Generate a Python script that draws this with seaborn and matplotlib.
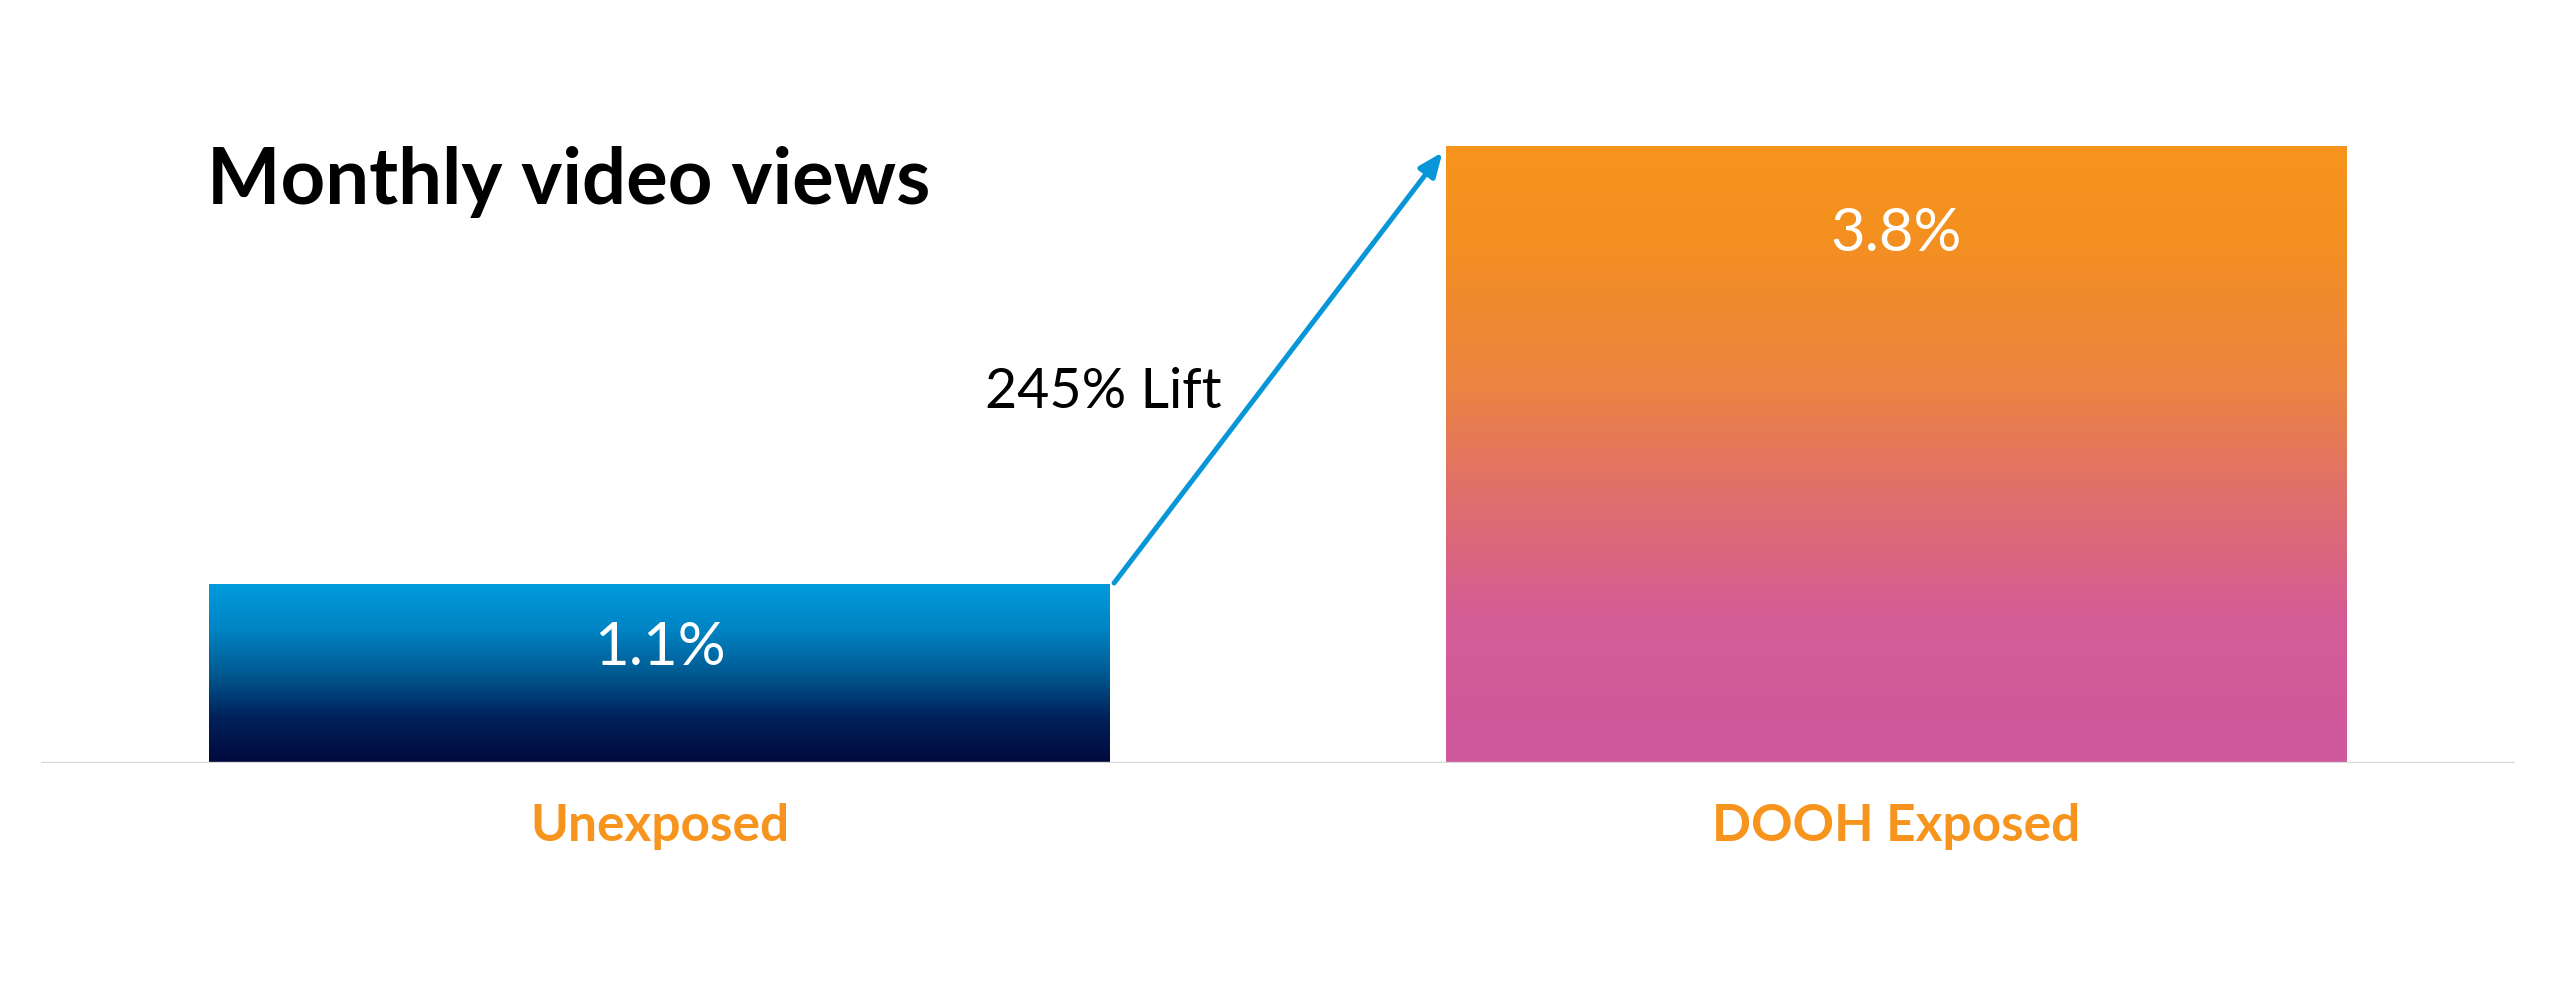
import numpy as np
import pandas as pd
import matplotlib
matplotlib.use('Agg')
import matplotlib.pyplot as plt
from matplotlib.colors import LinearSegmentedColormap
import seaborn as sns

# chart data
categories = ['Unexposed', 'DOOH Exposed']
values = [1.1, 3.8]
value_labels = ['1.1%', '3.8%']
lift_label = '245% Lift'
title = 'Monthly video views'

# gradient stops (position, colour), from bottom (0) to top (1) of each bar
blue_stops = [(0, '#000a3c'), (0.25, '#00205a'), (0.5, '#005a92'),
              (0.75, '#0084c4'), (1, '#009bdb')]
orange_stops = [(0, '#d0589e'), (0.23, '#d45c96'), (0.44, '#e0706a'),
                (0.62, '#ec8540'), (0.86, '#f4901f'), (1, '#f7941d')]

sns.set_theme(style='white')
plt.rcParams['font.family'] = ['Lato', 'DejaVu Sans']

df = pd.DataFrame({'category': categories, 'value': values})

fig = plt.figure(figsize=(25.6, 10), dpi=100)
ax = fig.add_axes([41 / 2560, 0.237, 2474 / 2560, 0.731])

sns.barplot(data=df, x='category', y='value', hue='category',
            palette=['#009bdb', '#f7941d'], width=0.728, legend=False, ax=ax)

# swap flat fills for vertical gradients clipped to each bar
grad = np.linspace(0, 1, 256).reshape(-1, 1)
for patch, stops in zip(ax.patches, [blue_stops, orange_stops]):
    cmap = LinearSegmentedColormap.from_list('g', stops)
    x0, y0 = patch.get_x(), patch.get_y()
    w, h = patch.get_width(), patch.get_height()
    im = ax.imshow(grad, cmap=cmap, extent=[x0, x0 + w, y0, y0 + h],
                   origin='lower', aspect='auto', zorder=2)
    im.set_clip_path(patch)
    patch.set_facecolor('none')
    patch.set_edgecolor('none')

ax.set_xlim(-0.5, 1.5)
ax.set_ylim(0, 4.5)

# value labels inside bars
offsets = [-64, -88]
for i, (v, lab) in enumerate(zip(values, value_labels)):
    ax.annotate(lab, xy=(i, v), xytext=(0, offsets[i]), textcoords='offset pixels',
                ha='center', va='center', color='white', fontsize=43,
                fontweight='normal', zorder=5)

# lift arrow between the bars
ax.annotate('', xy=(0.633, 3.76), xytext=(0.3675, 1.108),
            arrowprops=dict(arrowstyle='-|>,head_length=1.2,head_width=0.5',
                            color='#0896d8', lw=3.6, shrinkA=0, shrinkB=0),
            zorder=4)
ax.text(0.359, 2.28, lift_label, ha='center', va='center', fontsize=40,
        fontweight='normal', color='black')

ax.axhline(0, color='#d9d9d9', lw=2.4, zorder=3)

sns.despine(ax=ax, left=True, bottom=True)
ax.set_yticks([])
ax.set_xlabel('')
ax.set_ylabel('')
ax.tick_params(axis='x', length=0, pad=29)
for t in ax.get_xticklabels():
    t.set_color('#f7941d')
    t.set_fontweight('bold')
    t.set_fontsize(37)

fig.text(207 / 2560, 1 - 204 / 1000, title, ha='left', va='baseline',
         fontsize=56, fontweight='bold', color='black')

fig.savefig('out.png', dpi=100)
plt.close()
